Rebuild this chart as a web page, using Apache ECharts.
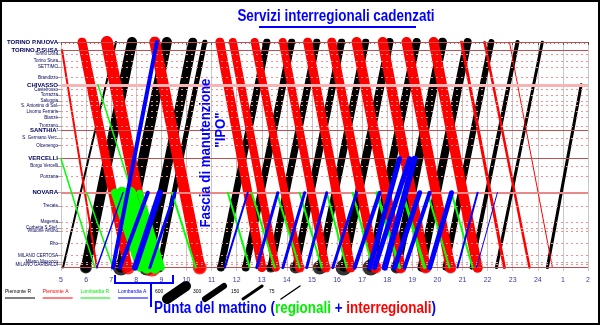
<!DOCTYPE html>
<html><head><meta charset="utf-8">
<script src="https://cdn.jsdelivr.net/npm/echarts@6/dist/echarts.min.js"></script>
<style>html,body{margin:0;padding:0;background:#fff}#c{width:600px;height:325px}</style>
</head><body><div id="c"></div>
<script>
// ---- stations (km from Torino P.Nuova) ----
const stationNames = ["TORINO P.NUOVA","TORINO P.SUSA","Torino Dora","Torino Stura","SETTIMO","Brandizzo","CHIVASSO","Castelrosso","Torrazza","Saluggia","S. Antonino di Sal.","Livorno Ferraris","Bianzè","Tronzano","SANTHIA'","S. Germano Verc.","Olcenengo","VERCELLI","Borgo Vercelli","Ponzana","NOVARA","Trecate","Magenta","Corbetta S.Stef.","Vittuone Arluno","Rho","MILANO CERTOSA","Milano Musocco","MILANO GARIBALDI","MILANO CENTRALE"];
const stationKm = [0,5.4,8,13,17,24,29,32,36,40,43,47,51,57,59.5,65,70,79,84,91,102,111,122,126,128,136.5,144.6,149,150.7,152.7];
const stationClass = ["main","main","minor","minor","minor","minor","hub","minor","minor","minor","minor","minor","minor","minor","main","minor","minor","main","minor","minor","hub2","minor","minor","minor","minor","minor","minor","minor","minor","main"];
const hourTicks = [5,6,7,8,9,10,11,12,13,14,15,16,17,18,19,20,21,22,23,24,25,26];

// ---- Piemonte A (red, Torino -> Milano) ----
const redDep   = [5.04,5.84,6.83,8.74,11.33,11.85,12.72,13.84,14.83,15.79,16.78,17.82,18.77,19.85,20.96,21.88,22.87];
const redArr   = [6.43,7.67,8.62,10.53,13.00,13.56,14.51,15.55,16.54,17.54,18.53,19.53,20.52,21.60,22.67,23.67,24.58];
const redFrom  = [5.4,0,0,0,0,0,0,0,0,0,0,0,0,0,0,0,0];
const redTo    = [152.7,152.7,152.7,152.7,152.7,152.7,152.7,152.7,152.7,152.7,152.7,152.7,152.7,152.7,152.7,152.7,152.7];
const redLoad  = [2,9,12,11,9,8,8,8,9,9,10,10,10,10,3,2.5,1];
const redPeak  = [0,14,18,14,8,0,10,10,10,12,12,12,12,10,0,0,0];

// ---- Piemonte R (black, Milano -> Torino) ----
const blackDep  = [5.08,5.99,7.39,8.42,8.90,11.37,12.36,13.36,14.35,15.31,16.26,17.34,18.37,19.37,20.32,21.36,22.35,24.38];
const blackArr  = [7.19,7.83,9.22,10.25,10.73,13.20,14.19,15.19,16.18,17.14,18.09,19.17,20.20,21.20,22.15,23.19,24.18,25.73];
const blackFrom = [152.7,152.7,152.7,152.7,152.7,152.7,152.7,152.7,152.7,152.7,152.7,152.7,152.7,152.7,152.7,152.7,152.7,152.7];
const blackTo   = [0,0,0,0,0,0,0,0,0,0,0,0,0,0,0,0,0,29];
const blackLoad = [2,10,10,9,5,7,7,7,7,7,8,8,9,8,6,4,3,3];
const blackPeak = [0,12,16,16,10,8,8,10,12,14,16,16,12,8,0,0,0,0];

// ---- Lombardia R (green, towards Milano) ----
const greenDep  = [5.00,6.03,6.47,7.15,7.43,7.75,8.14,9.42,11.65,12.60,13.60,14.51,15.59,16.62,17.58,18.61,19.61,20.56];
const greenArr  = [6.35,7.07,7.83,8.14,8.42,8.74,9.02,10.37,12.52,13.52,14.51,15.39,16.38,17.42,18.49,19.49,20.48,21.40];
const greenFrom = [79,102,29,102,102,102,102,102,102,102,102,102,102,102,102,102,102,102];
const greenTo   = [152.7,152.7,102,152.7,152.7,152.7,152.7,152.7,152.7,152.7,152.7,152.7,152.7,152.7,152.7,152.7,152.7,152.7];
const greenLoad = [1.5,1.5,1.5,8,12,12,6,2,2,2,2,2,2,2,3,3,2,2];

// ---- Lombardia A (blue, from Milano) ----
const blueDep  = [6.43,7.07,7.35,7.95,8.54,11.53,12.80,13.84,14.79,15.83,16.70,17.30,17.50,17.90,18.29,18.69,19.69,20.80,21.56];
const blueArr  = [7.47,8.82,8.46,8.94,9.54,12.44,13.64,14.71,15.59,16.78,17.70,18.49,18.89,19.09,19.29,19.69,20.56,21.60,22.39];
const blueFrom = [152.7,152.7,152.7,152.7,152.7,152.7,152.7,152.7,152.7,152.7,152.7,152.7,152.7,152.7,152.7,152.7,152.7,152.7,152.7];
const blueTo   = [102,0,102,102,102,102,102,102,102,102,102,79,79,79,102,102,102,102,102];
const blueLoad = [1.5,4,4,6,3,2,3,3,3,3,4,5,5,6,5,4,5,2,1];

// ---- legend ----
const legendNames = ["Piemonte R","Piemonte A","Lombardia R","Lombardia A"];
const legendColors = ["#000000","#ff0000","#00ee00","#0000ff"];
const loadLegend = [600,300,150,75];
const loadLegendWidth = [10,6,3,1.5];

const chart = echarts.init(document.getElementById('c'), null, {renderer:'canvas'});
const series = [];
function addTrains(color, dep, arr, from, to, load, z) {
  for (let i = 0; i < dep.length; i++) {
    series.push({type:'line', silent:true, animation:false, symbol:'none', z:z,
      data:[[dep[i],from[i]],[arr[i],to[i]]],
      lineStyle:{color:color, width:load[i], cap:'round', join:'round'}});
  }
}
addTrains('#000000', blackDep, blackArr, blackFrom, blackTo, blackLoad, 3);
addTrains('#ff0000', redDep, redArr, redFrom, redTo, redLoad, 4);
addTrains('#00ff00', greenDep, greenArr, greenFrom, greenTo, greenLoad, 5);
addTrains('#0000ff', blueDep, blueArr, blueFrom, blueTo, blueLoad, 6);

series.push({type:'scatter', silent:true, animation:false, clip:false, z:3,
  data: blackDep.map((t,i)=>[t, blackFrom[i], blackPeak[i]]).filter(d=>d[2]>0),
  symbolSize: v=>v[2], itemStyle:{color:'#000'}});
series.push({type:'scatter', silent:true, animation:false, clip:false, z:4,
  data: redArr.map((t,i)=>[t, redTo[i], redPeak[i]]).filter(d=>d[2]>0),
  symbolSize: v=>v[2], itemStyle:{color:'#ff0000'}});

const lineStyleFor = c => c==='main' ? {color:'#c05050', width:1, type:'solid'}
  : c==='hub' ? {color:'#f6b4b4', width:3, type:'solid'}
  : c==='hub2' ? {color:'#e88888', width:2, type:'solid'}
  : {color:'#f09090', width:1, type:[2,3]};
series.push({type:'line', silent:true, animation:false, symbol:'none', z:1,
  data:[[5,0]], lineStyle:{width:0},
  markLine:{symbol:'none', silent:true, animation:false, label:{show:false},
    data: stationKm.map((k,i)=>({yAxis:k, lineStyle:lineStyleFor(stationClass[i])}))}});

const font = '"Liberation Sans",Arial,sans-serif';
const graphic = [
  {type:'rect', shape:{x:1,y:1,width:598,height:323}, style:{fill:null, stroke:'#000', lineWidth:2}, z:100},
  {type:'text', x:336, y:17, scaleX:0.84, style:{text:'Servizi interregionali cadenzati', font:'bold 16px '+font, fill:'#0000ff', align:'center', verticalAlign:'middle'}, z:100},
  {type:'line', shape:{x1:259,y1:27,x2:416,y2:27}, style:{stroke:'#0000ff', lineWidth:2}, z:100},
  {type:'text', x:206, y:153, rotation:Math.PI/2, scaleX:0.88, style:{text:'Fascia di manutenzione', font:'bold 15px '+font, fill:'#0000ff', align:'center', verticalAlign:'middle'}, z:100},
  {type:'text', x:221, y:130, rotation:Math.PI/2, scaleX:0.88, style:{text:'"IPO"', font:'bold 15px '+font, fill:'#0000ff', align:'center', verticalAlign:'middle'}, z:100},
  {type:'polyline', shape:{points:[[115,275],[115,283],[173,283],[173,275]]}, style:{stroke:'#0000ff', lineWidth:2, fill:null}, z:100},
  {type:'line', shape:{x1:151,y1:283,x2:151,y2:307}, style:{stroke:'#0000ff', lineWidth:2}, z:100},
  {type:'text', x:154, y:309, scaleX:0.84, style:{text:'{b|Punta del mattino (}{g|regionali}{b| + }{r|interregionali}{b|)}', verticalAlign:'middle',
     rich:{b:{fill:'#0000ff', font:'bold 16px '+font}, g:{fill:'#00ee00', font:'bold 16px '+font}, r:{fill:'#ff0000', font:'bold 16px '+font}}}, z:100}
];
legendNames.forEach((n,i)=>{
  const x0 = 5 + i*37.7;
  graphic.push({type:'text', x:x0, y:292, style:{text:n, font:'5px "Liberation Sans",Arial', fill:legendColors[i], verticalAlign:'middle'}});
  graphic.push({type:'line', shape:{x1:x0,y1:298,x2:x0+30,y2:298}, style:{stroke:legendColors[i], lineWidth:1}});
});
loadLegend.forEach((n,i)=>{
  const x0 = 155 + i*38;
  graphic.push({type:'text', x:x0, y:292, style:{text:String(n), font:'5px "Liberation Sans",Arial', fill:'#000', verticalAlign:'middle'}});
  graphic.push({type:'line', shape:{x1:x0+12,y1:299,x2:x0+31,y2:286}, style:{stroke:'#000', lineWidth:loadLegendWidth[i], lineCap:'round'}});
});

chart.setOption({
  animation:false,
  backgroundColor:'#fff',
  grid:{left:61, right:12, top:42, bottom:54},
  xAxis:{type:'value', min:5, max:26, interval:1,
    axisLine:{lineStyle:{color:'#555', width:1}},
    axisTick:{length:3, lineStyle:{color:'#555'}},
    minorTick:{show:true, splitNumber:6, length:2, lineStyle:{color:'#d06060'}},
    axisLabel:{customValues:hourTicks, color:'#3a3aa0', fontSize:7, margin:6, fontFamily:'Liberation Sans',
      formatter:v=>String(v>24 ? v-24 : v)},
    splitLine:{show:true, lineStyle:{color:'#c8c8c8', width:1}}},
  yAxis:{type:'value', min:0, max:155, inverse:true,
    axisLine:{show:false},
    splitLine:{show:false},
    axisTick:{show:true, customValues:stationKm, length:4, lineStyle:{color:'#aaa'}},
    axisLabel:{customValues:stationKm, margin:3,
      formatter:v=>{const i = stationKm.indexOf(v); const n = stationNames[i]||'';
        return (stationClass[i]==='minor' ? '{m|' : '{M|') + n + '}';},
      rich:{M:{fontSize:6, fontWeight:'bold', color:'#00005a', fontFamily:'Liberation Sans'},
            m:{fontSize:4.5, color:'#00005a', fontFamily:'Liberation Sans'}}}},
  series: series,
  graphic: graphic
});
</script></body></html>
